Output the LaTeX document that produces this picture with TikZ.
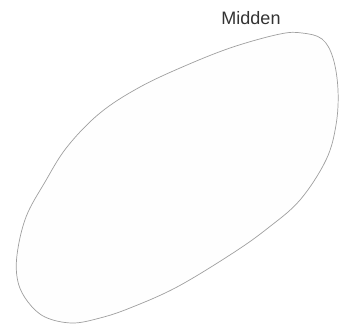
\documentclass[tikz,border=0pt]{standalone}
\usepackage{fontspec}
\setmainfont{Liberation Sans}
\usepackage{tikz}

\begin{document}
\begin{tikzpicture}[x=1pt, y=-1pt, every node/.style={font=\fontsize{18}{21}\selectfont}]
  \useasboundingbox (0,0) rectangle (339,324);
  % outline of the midden
  \draw[gray!75, fill=gray!1, line width=0.7pt] plot[smooth cycle, tension=0.6] coordinates {
    (302,33) (322,39) (333,58) (338,90) (336,125) (326,160) (300,200)
    (268,228) (233,253) (177,287) (130,308) (100,318) (72,323) (45,317) (28,302)
    (18,282) (17,255) (26,217) (45,182) (67,147) (100,113) (140,87)
    (187,65) (233,47) (280,34)};
  \node[text=black!80, inner sep=0pt] (midden) at (251,18) {Midden};
\end{tikzpicture}
\end{document}
